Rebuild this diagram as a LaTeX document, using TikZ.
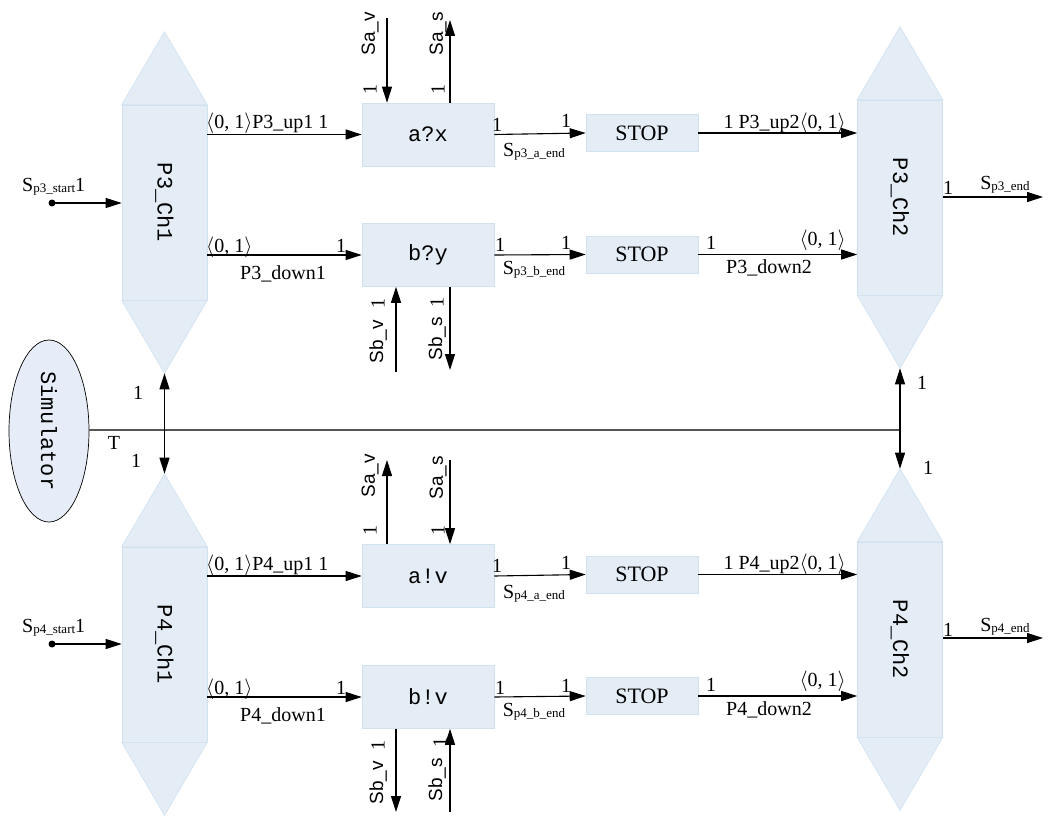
\documentclass[tikz,border=0pt]{standalone}
\usepackage{fontspec}
\setmainfont{Liberation Serif}
\setsansfont{Liberation Sans}
\newfontfamily\codefont{Liberation Mono}
\usetikzlibrary{arrows.meta,calc,shapes.geometric}

\definecolor{boxfill}{RGB}{228,237,246}
\definecolor{boxedge}{RGB}{208,225,240}
\definecolor{simfill}{RGB}{230,237,248}
\definecolor{busline}{RGB}{85,85,85}

% signal name with a lowered subscript part
\newcommand\signame[1]{S\raisebox{-1.5pt}{\fontsize{13}{13}\selectfont #1}}
\newcommand\ang[1]{$\langle$#1$\rangle$}

\tikzset{
  flow/.style={line width=1.1pt,-{Triangle[length=16pt,width=10pt]}},
  twoway/.style={line width=1.1pt,{Triangle[length=16pt,width=10pt]}-{Triangle[length=16pt,width=10pt]}},
  lbl/.style={inner sep=0pt,font=\fontsize{20}{20}\selectfont},
  vlbl/.style={lbl,rotate=90},
  slbl/.style={inner sep=0pt,rotate=90,font=\sffamily\fontsize{19}{19}\selectfont},
  proc/.style={fill=boxfill,draw=boxedge,line width=0.6pt,minimum width=132,minimum height=63,inner sep=0pt,font=\codefont\fontsize{22}{22}\selectfont},
  stopbox/.style={fill=boxfill,draw=boxedge,line width=0.6pt,minimum width=112,minimum height=37,inner sep=0pt,font=\fontsize{22}{22}\selectfont},
  chan/.style={fill=boxfill,draw=boxedge,line width=0.6pt,minimum width=85,minimum height=195,inner sep=0pt,font=\codefont\fontsize{22}{22}\selectfont},
  tip/.style={fill=boxfill,draw=boxedge,line width=0.6pt},
}

\begin{document}
\begin{tikzpicture}[x=1pt,y=-1pt]
\useasboundingbox (0,0) rectangle (1048,816);

% ---------- channel blocks (hexagons) ----------
\node[chan] (p3c1) at (164.5,202.5) {\rotatebox{-90}{P3\_Ch1}};
\node[chan] (p3c2) at (900,197.5) {\rotatebox{-90}{P3\_Ch2}};
\node[chan] (p4c1) at (164.5,644.5) {\rotatebox{-90}{P4\_Ch1}};
\node[chan] (p4c2) at (900,639.5) {\rotatebox{-90}{P4\_Ch2}};
\foreach \c in {p3c1,p3c2,p4c1,p4c2}{
  \coordinate (\c t) at ($(\c.north)+(0,-73)$);
  \coordinate (\c b) at ($(\c.south)+(0,73)$);
  \draw[tip] (\c.north west) -- (\c t) -- (\c.north east) -- cycle;
  \draw[tip] (\c.south west) -- (\c b) -- (\c.south east) -- cycle;
}

% ---------- processes ----------
\node[proc] (ax) at (428,134.5) {a?x};
\node[proc] (by) at (428,255) {b?y};
\node[stopbox] (s1) at (642,133) {STOP};
\node[stopbox] (s2) at (642,254.5) {STOP};
\node[proc] (av) at (428,576) {a!v};
\node[proc] (bv) at (428,697) {b!v};
\node[stopbox] (s3) at (642,574.5) {STOP};
\node[stopbox] (s4) at (642,696) {STOP};

% ---------- simulator ----------
\node[ellipse,draw,fill=simfill,line width=0.7pt,minimum width=80,minimum height=182,inner sep=0pt,font=\codefont\fontsize{22}{22}\selectfont] (sim) at (49,431) {\rotatebox{-90}{Simulator}};

% ---------- P3 flows ----------
\coordinate (st3) at (52,203);
\fill (st3) circle (3.5);
\draw[flow] (st3) -- (st3 -| p3c1.west);
\draw[flow] (ax.west -| p3c1.east) -- (ax.west);
\draw[flow] (by.west -| p3c1.east) -- (by.west);
\draw[flow] (ax.east) -- (s1.west);
\draw[flow] (by.east) -- (s2.west);
\draw[flow] (s1.east) -- (s1.east -| p3c2.west);
\draw[flow] (s2.east) -- (s2.east -| p3c2.west);
\coordinate (end3) at (1043,197);
\draw[flow] (end3 -| p3c2.east) -- (end3);

\coordinate (sav3) at (387,18);
\coordinate (sas3) at (450,20);
\coordinate (sbv3) at (396,372);
\coordinate (sbs3) at (450,370);
\draw[flow] (sav3) -- (sav3 |- ax.north);
\draw[flow] (sas3 |- ax.north) -- (sas3);
\draw[flow] (sbv3) -- (sbv3 |- by.south);
\draw[flow] (sbs3 |- by.south) -- (sbs3);

% ---------- P4 flows ----------
\coordinate (st4) at (52,644);
\fill (st4) circle (3.5);
\draw[flow] (st4) -- (st4 -| p4c1.west);
\draw[flow] (av.west -| p4c1.east) -- (av.west);
\draw[flow] (bv.west -| p4c1.east) -- (bv.west);
\draw[flow] (av.east) -- (s3.west);
\draw[flow] (bv.east) -- (s4.west);
\draw[flow] (s3.east) -- (s3.east -| p4c2.west);
\draw[flow] (s4.east) -- (s4.east -| p4c2.west);
\coordinate (end4) at (1043,638);
\draw[flow] (end4 -| p4c2.east) -- (end4);

\coordinate (sav4) at (387,460);
\coordinate (sas4) at (450,460);
\coordinate (sbv4) at (396,812);
\coordinate (sbs4) at (450,812);
\draw[flow] (sav4 |- av.north) -- (sav4);
\draw[flow] (sas4) -- (sas4 |- av.north);
\draw[flow] (sbv4 |- bv.south) -- (sbv4);
\draw[flow] (sbs4) -- (sbs4 |- bv.south);

% ---------- simulator bus ----------
\coordinate (busend) at (900,430);
\draw[busline,line width=1.1pt] (sim.east |- busend) -- (busend);
\draw[twoway] (p3c1b) -- (p4c1t);
\draw[twoway] (p3c2b) -- (p4c2t);
\node[lbl] at (138,393) {1};
\node[lbl] at (114,443) {T};
\node[lbl] at (136,461) {1};
\node[lbl] at (922,383) {1};
\node[lbl] at (928,468) {1};

% ---------- P3 labels ----------
\node[lbl,anchor=west] at (22,187) {\signame{p3\_start}1};
\node[lbl,anchor=west] at (206,123) {\ang{0, 1}P3\_up1 1};
\node[lbl,anchor=west] at (206,247) {\ang{0, 1}};
\node[lbl] at (341,246) {1};
\node[lbl] at (283,274) {P3\_down1};
\node[lbl] at (497,125) {1};
\node[lbl] at (566,121) {1};
\node[lbl] at (534,152) {\signame{p3\_a\_end}};
\node[lbl] at (500,245) {1};
\node[lbl] at (566,243) {1};
\node[lbl] at (534,270) {\signame{p3\_b\_end}};
\node[lbl,anchor=east] at (846,123) {1 P3\_up2\ang{0, 1}};
\node[lbl] at (711,243) {1};
\node[lbl,anchor=east] at (846,240) {\ang{0, 1}};
\node[lbl] at (769,268) {P3\_down2};
\node[lbl] at (948,188) {1};
\node[lbl] at (1005,185) {\signame{p3\_end}};
\node[slbl] at (370,34) {Sa\_v};
\node[vlbl] at (370,89) {1};
\node[slbl] at (438,34) {Sa\_s};
\node[vlbl] at (438,89) {1};
\node[slbl] at (378,342) {Sb\_v};
\node[vlbl] at (378,303) {1};
\node[slbl] at (437,339) {Sb\_s};
\node[vlbl] at (437,302) {1};

% ---------- P4 labels ----------
\node[lbl,anchor=west] at (22,628) {\signame{p4\_start}1};
\node[lbl,anchor=west] at (206,565) {\ang{0, 1}P4\_up1 1};
\node[lbl,anchor=west] at (206,689) {\ang{0, 1}};
\node[lbl] at (341,688) {1};
\node[lbl] at (283,716) {P4\_down1};
\node[lbl] at (497,566) {1};
\node[lbl] at (566,563) {1};
\node[lbl] at (534,594) {\signame{p4\_a\_end}};
\node[lbl] at (500,688) {1};
\node[lbl] at (566,686) {1};
\node[lbl] at (534,712) {\signame{p4\_b\_end}};
\node[lbl,anchor=east] at (846,564) {1 P4\_up2\ang{0, 1}};
\node[lbl] at (711,685) {1};
\node[lbl,anchor=east] at (846,681) {\ang{0, 1}};
\node[lbl] at (769,710) {P4\_down2};
\node[lbl] at (948,630) {1};
\node[lbl] at (1005,627) {\signame{p4\_end}};
\node[slbl] at (370,476) {Sa\_v};
\node[vlbl] at (370,530) {1};
\node[slbl] at (438,478) {Sa\_s};
\node[vlbl] at (438,530) {1};
\node[slbl] at (378,783) {Sb\_v};
\node[vlbl] at (378,745) {1};
\node[slbl] at (437,780) {Sb\_s};
\node[vlbl] at (440,742) {1};
\end{tikzpicture}
\end{document}
